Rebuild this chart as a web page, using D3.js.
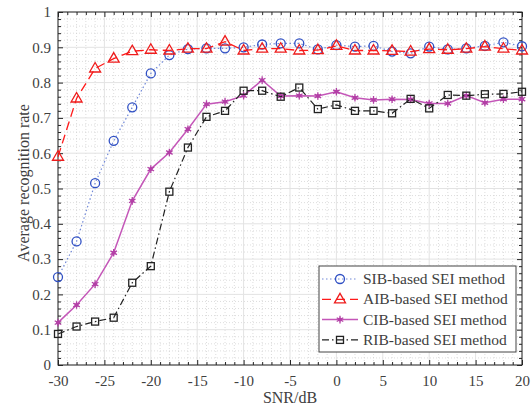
<!DOCTYPE html>
<html>
<head>
	<meta http-equiv="Content-Type" content="text/html;charset=utf-8">
	<title>Recognition rate vs SNR</title>
	<script src="https://d3js.org/d3.v7.min.js"></script>
	<style type="text/css">
		body { margin: 0; background: white; }
		text { font-family: "Liberation Serif", "Times New Roman", serif; fill: #404040; }
	</style>
</head>
<body>
	<svg width="532" height="407"></svg>
	<script type="text/javascript">
		var snr = d3.range(-30, 21, 2);
		var sib = [0.249, 0.35, 0.515, 0.635, 0.73, 0.826, 0.878, 0.895, 0.897, 0.897, 0.90, 0.908,
			0.911, 0.911, 0.894, 0.906, 0.902, 0.904, 0.888, 0.883, 0.902, 0.894, 0.897, 0.904, 0.914, 0.903];
		var aib = [0.59, 0.755, 0.84, 0.868, 0.889, 0.893, 0.891, 0.896, 0.896, 0.916, 0.891, 0.896,
			0.896, 0.891, 0.892, 0.904, 0.891, 0.891, 0.89, 0.888, 0.895, 0.893, 0.896, 0.902, 0.896, 0.891];
		var cib = [0.12, 0.17, 0.229, 0.318, 0.465, 0.555, 0.602, 0.668, 0.739, 0.746, 0.763, 0.807,
			0.762, 0.763, 0.762, 0.774, 0.757, 0.751, 0.753, 0.752, 0.741, 0.741, 0.763, 0.743, 0.753, 0.753];
		var rib = [0.088, 0.109, 0.123, 0.134, 0.233, 0.28, 0.491, 0.616, 0.703, 0.72, 0.777, 0.777,
			0.76, 0.786, 0.725, 0.737, 0.72, 0.72, 0.713, 0.754, 0.727, 0.765, 0.763, 0.767, 0.768, 0.774];
		var xTicks = [-30, -25, -20, -15, -10, -5, 0, 5, 10, 15, 20];
		var yTicks = [0, 0.1, 0.2, 0.3, 0.4, 0.5, 0.6, 0.7, 0.8, 0.9, 1];
		var labels = ["SIB-based SEI method", "AIB-based SEI method", "CIB-based SEI method", "RIB-based SEI method"];

		var series = [
			{ name: labels[0], values: sib, line: "#7088d8", mark: "#3050c4", dash: "1.5,2.5", width: 1.2, shape: "circle" },
			{ name: labels[1], values: aib, line: "#ff1a1a", mark: "#ee1c1c", dash: "9,5", width: 1.3, shape: "triangle" },
			{ name: labels[2], values: cib, line: "#c456b8", mark: "#b33fa6", dash: null, width: 1.5, shape: "star" },
			{ name: labels[3], values: rib, line: "#222", mark: "#222", dash: "7,3,1.5,3", width: 1.2, shape: "square" }
		];

		var svg = d3.select("svg");
		var L = 58, R = 522, T = 12, B = 365;
		var x = d3.scaleLinear().domain([-30, 20]).range([L, R]);
		var y = d3.scaleLinear().domain([0, 1]).range([B, T]);

		svg.append("rect").attr("x", 0).attr("y", 0).attr("width", 532).attr("height", 407).attr("fill", "white");

		// minor grid
		var g = svg.append("g");
		d3.range(-30, 21, 1).forEach(function (v) {
			if (v % 5 === 0) return;
			g.append("line").attr("x1", x(v)).attr("x2", x(v)).attr("y1", T).attr("y2", B)
				.attr("stroke", "#cfcfcf").attr("stroke-width", 0.7).attr("stroke-dasharray", "1,2");
		});
		d3.range(0, 51, 1).forEach(function (i) {
			if (i % 5 === 0) return;
			var v = i / 50;
			g.append("line").attr("x1", L).attr("x2", R).attr("y1", y(v)).attr("y2", y(v))
				.attr("stroke", "#cfcfcf").attr("stroke-width", 0.7).attr("stroke-dasharray", "1,2");
		});
		// major grid
		xTicks.forEach(function (v) {
			g.append("line").attr("x1", x(v)).attr("x2", x(v)).attr("y1", T).attr("y2", B)
				.attr("stroke", "#e3e3e3").attr("stroke-width", 1);
		});
		yTicks.forEach(function (v) {
			g.append("line").attr("x1", L).attr("x2", R).attr("y1", y(v)).attr("y2", y(v))
				.attr("stroke", "#e3e3e3").attr("stroke-width", 1);
		});

		// axes with inner ticks on all sides
		var axisColor = "#262626";
		function styleAxis(sel) {
			sel.attr("font-family", null);
			sel.select(".domain").remove();
			sel.selectAll("line").attr("stroke", axisColor);
			sel.selectAll("text").attr("font-size", 15).attr("fill", "#404040");
		}
		svg.append("g").attr("transform", "translate(0," + B + ")")
			.call(d3.axisBottom(x).tickValues(xTicks).tickSize(-5).tickPadding(10).tickFormat(function (d) { return String(d); }))
			.call(styleAxis);
		svg.append("g").attr("transform", "translate(0," + T + ")")
			.call(d3.axisTop(x).tickValues(xTicks).tickSize(-5).tickFormat(""))
			.call(styleAxis);
		svg.append("g").attr("transform", "translate(" + L + ",0)")
			.call(d3.axisLeft(y).tickValues(yTicks).tickSize(-5).tickPadding(7).tickFormat(function (d) { return d === 0 || d === 1 ? String(d) : d.toFixed(1); }))
			.call(styleAxis);
		svg.append("g").attr("transform", "translate(" + R + ",0)")
			.call(d3.axisRight(y).tickValues(yTicks).tickSize(-5).tickFormat(""))
			.call(styleAxis);
		// minor ticks
		var minorX = d3.range(-30, 21, 1).filter(function (v) { return v % 5 !== 0; });
		var minorY = d3.range(0, 51).filter(function (i) { return i % 5 !== 0; }).map(function (i) { return i / 50; });
		svg.append("g").attr("transform", "translate(0," + B + ")").call(d3.axisBottom(x).tickValues(minorX).tickSize(-3).tickFormat("")).call(styleAxis);
		svg.append("g").attr("transform", "translate(0," + T + ")").call(d3.axisTop(x).tickValues(minorX).tickSize(-3).tickFormat("")).call(styleAxis);
		svg.append("g").attr("transform", "translate(" + L + ",0)").call(d3.axisLeft(y).tickValues(minorY).tickSize(-3).tickFormat("")).call(styleAxis);
		svg.append("g").attr("transform", "translate(" + R + ",0)").call(d3.axisRight(y).tickValues(minorY).tickSize(-3).tickFormat("")).call(styleAxis);

		svg.append("rect").attr("x", L).attr("y", T).attr("width", R - L).attr("height", B - T)
			.attr("fill", "none").attr("stroke", axisColor).attr("stroke-width", 1);

		// axis labels
		svg.append("text").attr("x", (L + R) / 2).attr("y", 403).attr("text-anchor", "middle")
			.attr("font-size", 16).text("SNR/dB");
		svg.append("text").attr("transform", "translate(29,183) rotate(-90)")
			.attr("text-anchor", "middle").attr("font-size", 16).text("Average recognition rate");

		function drawMarker(sel, s, cx, cy) {
			var m;
			if (s.shape === "circle") {
				m = sel.append("circle").attr("cx", cx).attr("cy", cy).attr("r", 4.5);
			} else if (s.shape === "triangle") {
				m = sel.append("path").attr("d", "M" + cx + "," + (cy - 6) + "L" + (cx + 5.5) + "," + (cy + 3.5) + "L" + (cx - 5.5) + "," + (cy + 3.5) + "Z");
			} else if (s.shape === "square") {
				m = sel.append("rect").attr("x", cx - 3.5).attr("y", cy - 3.5).attr("width", 7).attr("height", 7);
			} else {
				m = sel.append("path").attr("d", d3.symbol().type(d3.symbolAsterisk).size(40)())
					.attr("transform", "translate(" + cx + "," + cy + ")");
				sel.append("circle").attr("cx", cx).attr("cy", cy).attr("r", 2).attr("fill", s.mark);
			}
			m.attr("fill", "none").attr("stroke", s.mark).attr("stroke-width", 1.3);
		}

		var line = d3.line().x(function (d, i) { return x(snr[i]); }).y(function (d) { return y(d); });
		series.forEach(function (s) {
			svg.append("path").datum(s.values).attr("d", line).attr("fill", "none")
				.attr("stroke", s.line).attr("stroke-width", s.width)
				.attr("stroke-dasharray", s.dash);
			var mg = svg.append("g");
			s.values.forEach(function (v, i) { drawMarker(mg, s, x(snr[i]), y(v)); });
		});

		// legend
		var lg = svg.append("g");
		lg.append("rect").attr("x", 319).attr("y", 266).attr("width", 197).attr("height", 86)
			.attr("fill", "white").attr("stroke", "#444").attr("stroke-width", 1);
		series.forEach(function (s, i) {
			var yy = 279 + i * 20.3;
			lg.append("line").attr("x1", 322).attr("x2", 358).attr("y1", yy).attr("y2", yy)
				.attr("stroke", s.line).attr("stroke-width", s.width).attr("stroke-dasharray", s.dash);
			drawMarker(lg, s, 340, yy);
			lg.append("text").attr("x", 363).attr("y", yy + 5).attr("font-size", 15.5).text(s.name);
		});
	</script>
</body>
</html>
